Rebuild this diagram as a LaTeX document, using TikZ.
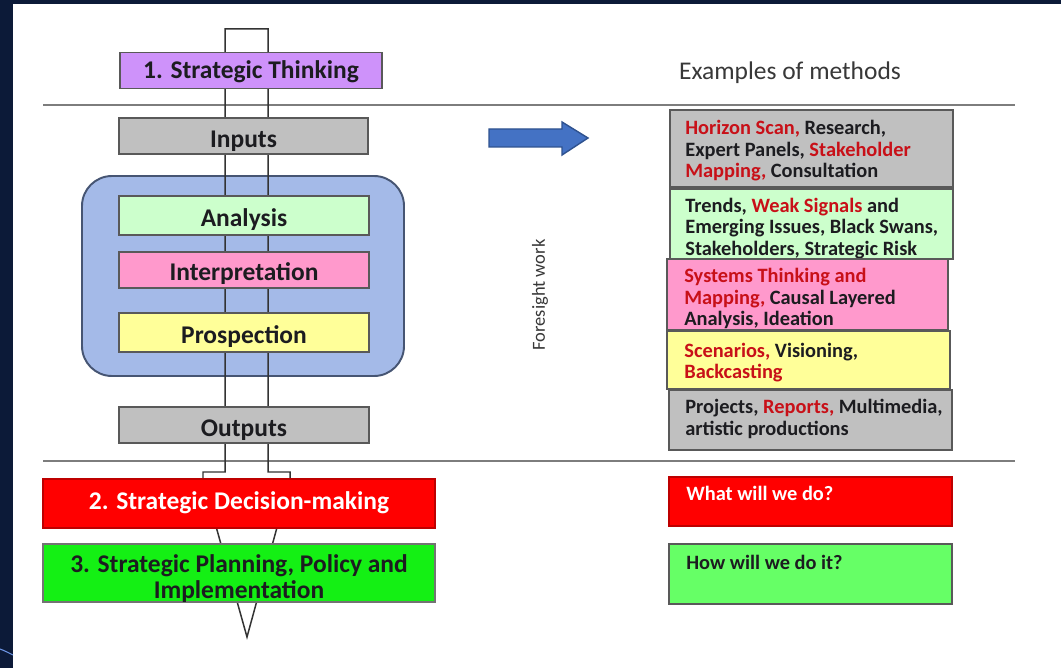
\documentclass[tikz,border=0pt]{standalone}
\usepackage{fontspec}
\setmainfont{Carlito}
\newdimen\pxu
\pxu=0.02cm
\newcommand\dn[2]{\raisebox{-#1\pxu}[\height][\depth]{#2}}
\definecolor{navy}{RGB}{12,26,56}
\definecolor{edgeblue}{RGB}{110,150,230}
\definecolor{sepgray}{RGB}{125,125,125}
\definecolor{stpurple}{RGB}{206,146,250}
\definecolor{boxgray}{RGB}{192,192,192}
\definecolor{procblue}{RGB}{164,186,232}
\definecolor{procedge}{RGB}{70,85,115}
\definecolor{lgreen}{RGB}{204,255,204}
\definecolor{lpink}{RGB}{255,153,204}
\definecolor{lyellow}{RGB}{255,255,153}
\definecolor{bred}{RGB}{255,0,0}
\definecolor{bredge}{RGB}{190,0,0}
\definecolor{bgreen}{RGB}{20,240,20}
\definecolor{sgreen}{RGB}{102,255,102}
\definecolor{mred}{RGB}{200,16,24}
\definecolor{arrblue}{RGB}{68,114,196}
\definecolor{arredge}{RGB}{47,82,143}
\definecolor{txt}{RGB}{28,28,32}
\begin{document}
\begin{tikzpicture}[x=0.02cm,y=-0.02cm,
  wh/.style 2 args={minimum width=#1\pxu, minimum height=#2\pxu},
  lbox/.style={draw=black!65, line width=0.8pt, inner sep=0pt, text=txt,
    font=\bfseries\fontsize{14.5}{17.5}\selectfont},
  sbox/.style={draw=black!65, line width=0.8pt, inner sep=0pt},
  mtext/.style={anchor=west, inner sep=0pt, align=left, text=txt,
    font=\bfseries\fontsize{11.6}{12.3}\selectfont},
  sepline/.style={draw=sepgray, line width=1.1pt},
  tube/.style={draw=black!80, line width=0.85pt},
  plain/.style={inner sep=0pt, text=black!78}
]
\useasboundingbox (0,0) rectangle (1061,668);
% slide background
\fill[navy] (0,0) rectangle (1061,668);
\fill[white] (13,4) rectangle (1061,668);
\draw[edgeblue, line width=0.6pt] (0,649) .. controls (5,651) .. (13,655);

% separator lines
\draw[sepline] (43,105) -- (1015,105);
\draw[sepline] (43,461) -- (1015,461);

% process container
\node[draw=procedge, fill=procblue, line width=1.1pt, rounded corners=30\pxu,
      wh={322}{200}] (proc) at (243,276) {};

% tube arrow
\draw[tube] (225,29) -- (268,29) -- (268,472) -- (290,472) -- (290,480)
  -- (247,637) -- (203,480) -- (203,472) -- (225,472) -- cycle;

% left boxes
\node[lbox, fill=stpurple, wh={262}{36}] (st) at (251,70.5) {\dn{1}{1. Strategic Thinking}};
\node[lbox, fill=boxgray, wh={249}{36}] (inp) at (243.5,136) {\dn{5}{Inputs}};
\node[lbox, fill=lgreen, wh={250}{39}] (ana) at (244,215.5) {\dn{4}{Analysis}};
\node[lbox, fill=lpink, wh={250}{36}] (int) at (244,270) {\dn{4}{Interpretation}};
\node[lbox, fill=lyellow, wh={250}{39}] (pro) at (244,332.5) {\dn{4}{Prospection}};
\node[lbox, fill=boxgray, wh={250}{36}] (out) at (244,425) {\dn{5}{Outputs}};
\node[lbox, draw=bredge, fill=bred, text=white, wh={392}{49}] (dm) at (239,503.5)
  {\dn{-1}{2. Strategic Decision-making}};
\node[lbox, draw=black!55, fill=bgreen, wh={392}{58},
      font=\bfseries\fontsize{14.5}{14.2}\selectfont] (pl) at (239,573)
  {\dn{7.5}{\begin{tabular}{@{}c@{}}3. Strategic Planning, Policy and\\Implementation\end{tabular}}};

% middle
\draw[draw=arredge, fill=arrblue, line width=0.8pt]
  (489,129) -- (562,129) -- (562,122) -- (588,138) -- (562,155) -- (562,147) -- (489,147) -- cycle;
\node[plain, rotate=90, font=\fontsize{10.5}{12}\selectfont] (fw) at (540,295) {Foresight work};

% right column
\node[plain, font=\fontsize{14.5}{17}\selectfont] (ex) at (790,73) {Examples of methods};

\node[sbox, fill=boxgray, wh={283}{77}] (mA) at (811.5,148.5) {};
\node[mtext] (mAt) at (685,150.8)
  {\textcolor{mred}{Horizon Scan,} Research,\\Expert Panels, \textcolor{mred}{Stakeholder}\\\textcolor{mred}{Mapping,} Consultation};
\node[sbox, fill=lgreen, wh={283}{70}] (mB) at (811.5,224) {};
\node[mtext] (mBt) at (685,228.5)
  {Trends, \textcolor{mred}{Weak Signals} and\\Emerging Issues, Black Swans,\\Stakeholders, Strategic Risk};
\node[sbox, fill=lpink, wh={281}{71}] (mC) at (807.5,294.5) {};
\node[mtext] (mCt) at (684,298.8)
  {\textcolor{mred}{Systems Thinking and}\\\textcolor{mred}{Mapping,} Causal Layered\\Analysis, Ideation};
\node[sbox, fill=lyellow, wh={283}{58}] (mD) at (808.5,360) {};
\node[mtext] (mDt) at (684,362.5)
  {\textcolor{mred}{Scenarios,} Visioning,\\\textcolor{mred}{Backcasting}};
\node[sbox, fill=boxgray, wh={283}{60}] (mE) at (810.5,420) {};
\node[mtext] (mEt) at (685,419)
  {Projects, \textcolor{mred}{Reports,} Multimedia,\\artistic productions};

\node[sbox, draw=bredge, fill=bred, wh={283}{49}] (qR) at (810.5,501.5) {};
\node[mtext, text=white] (qRt) at (686,493) {What will we do?};
\node[sbox, fill=sgreen, wh={283}{60}] (qG) at (810.5,574) {};
\node[mtext] (qGt) at (686,562) {How will we do it?};
\end{tikzpicture}
\end{document}
